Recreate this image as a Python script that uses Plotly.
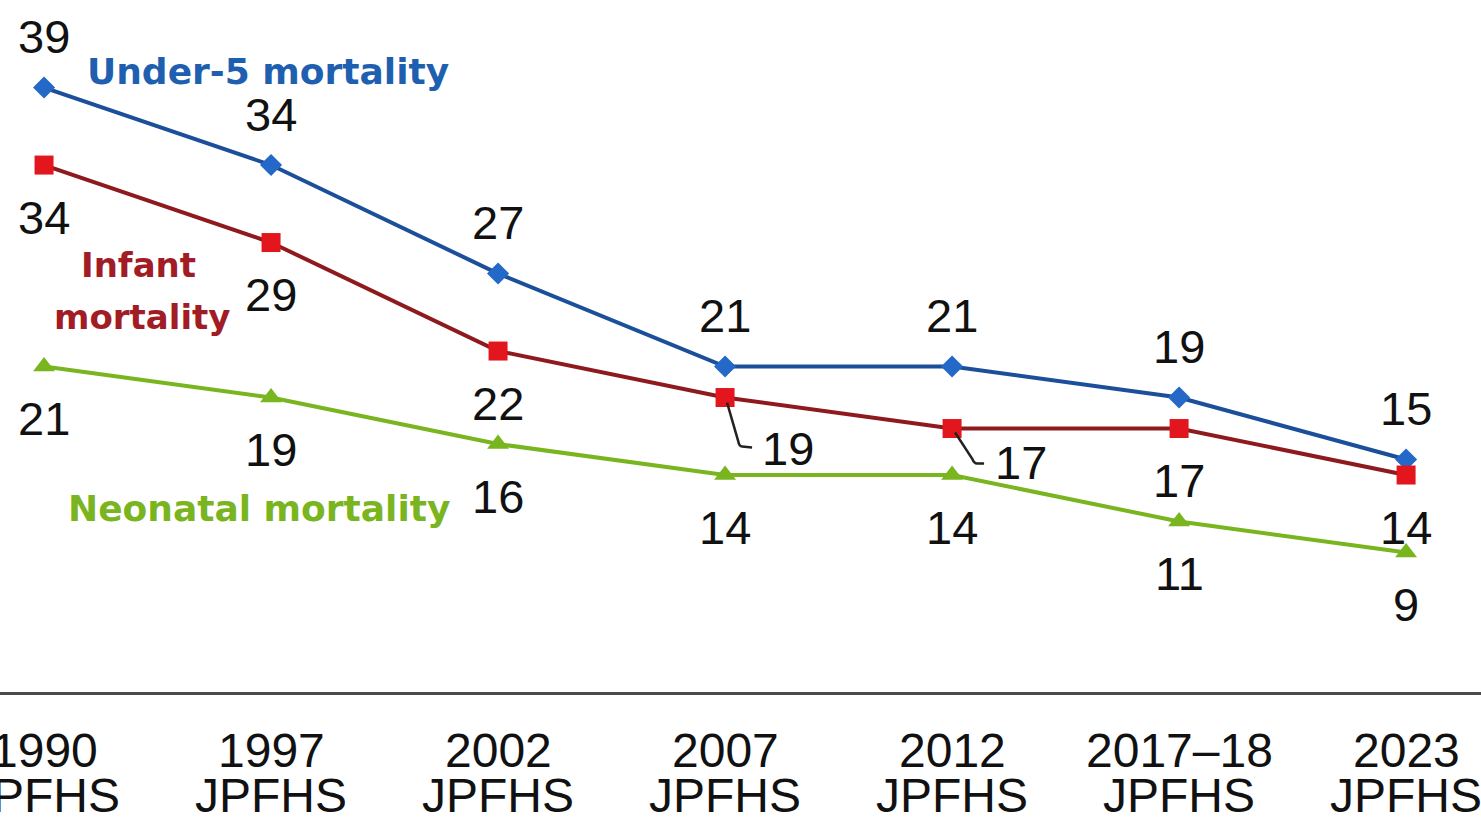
import plotly.graph_objects as go

years = ["1990", "1997", "2002", "2007", "2012", "2017–18", "2023"]
survey_name = ["JPFHS"] * 7
under5 = [39, 34, 27, 21, 21, 19, 15]
infant = [34, 29, 22, 19, 17, 17, 14]
neonatal = [21, 19, 16, 14, 14, 11, 9]

x = list(range(len(years)))

BLUE_LINE = "#1b4f9a"
BLUE_MARK = "#2468c8"
RED_LINE = "#8e1a1e"
RED_MARK = "#e3161d"
GREEN = "#78b51e"
ARIAL = "Liberation Sans, Arial, sans-serif"
LABEL_FONT = dict(family=ARIAL, size=47, color="#111111")
TICK_FONT = dict(family=ARIAL, size=48, color="#111111")
SERIES_FONT = "DejaVu Sans, sans-serif"

XR = [-0.194, 6.33]
YR = [0, 44.65]
PLOT_H = 692
PX_X = 1481 / (XR[1] - XR[0])
PX_Y = PLOT_H / (YR[1] - YR[0])

fig = go.Figure()
fig.add_trace(go.Scatter(x=x, y=under5, mode="lines+markers",
                         line=dict(color=BLUE_LINE, width=4),
                         marker=dict(symbol="diamond", size=17, color=BLUE_MARK),
                         hoverinfo="skip"))
fig.add_trace(go.Scatter(x=x, y=infant, mode="lines+markers",
                         line=dict(color=RED_LINE, width=4),
                         marker=dict(symbol="square", size=19, color=RED_MARK),
                         hoverinfo="skip"))
fig.add_trace(go.Scatter(x=x, y=neonatal, mode="lines+markers",
                         line=dict(color=GREEN, width=4),
                         marker=dict(symbol="triangle-up", size=19, color=GREEN),
                         hoverinfo="skip"))

ann = []
for i, v in enumerate(under5):
    ann.append(dict(x=i, y=v, text=str(v), showarrow=False, yshift=51, font=LABEL_FONT))

# leader-line label offsets (pixels) for infant 2007 and 2012
leader = {3: dict(label=(63, -51), pts=[(2, -5), (13, -43), (17, -49), (27, -50)]),
          4: dict(label=(69, -34), pts=[(3, -4), (20, -30), (25, -35), (32, -35)])}
for i, v in enumerate(infant):
    if i in leader:
        lx, ly = leader[i]["label"]
        ann.append(dict(x=i, y=v, text=str(v), showarrow=False, xshift=lx, yshift=ly,
                        font=LABEL_FONT))
        p = [(i + dx / PX_X, v + dy / PX_Y) for dx, dy in leader[i]["pts"]]
        path = (f"M {p[0][0]} {p[0][1]} L {p[1][0]} {p[1][1]} "
                f"Q {p[2][0] - 3 / PX_X} {p[2][1]} {p[2][0]} {p[2][1]} L {p[3][0]} {p[3][1]}")
        fig.add_shape(type="path", path=path, line=dict(color="#222222", width=2.5))
    else:
        ann.append(dict(x=i, y=v, text=str(v), showarrow=False, yshift=-52, font=LABEL_FONT))
for i, v in enumerate(neonatal):
    ann.append(dict(x=i, y=v, text=str(v), showarrow=False, yshift=-52, font=LABEL_FONT))

# category labels (two lines) below the baseline
for i in x:
    ann.append(dict(x=i, xref="x", yref="paper", y=0, text=years[i], showarrow=False,
                    yanchor="middle", yshift=-58, height=44, font=TICK_FONT))
    ann.append(dict(x=i, xref="x", yref="paper", y=0, text=survey_name[i], showarrow=False,
                    yanchor="middle", yshift=-103, height=44, font=TICK_FONT))

# series names
ann.append(dict(xref="paper", yref="paper", x=85 / 1481, y=1 - 71 / PLOT_H, xanchor="left",
                yanchor="middle", text="<b>Under-5 mortality</b>", showarrow=False,
                font=dict(family=SERIES_FONT, size=36, color="#1f5fb0")))
ann.append(dict(xref="paper", yref="paper", x=138 / 1481, y=1 - 265 / PLOT_H, xanchor="center",
                yanchor="middle", text="<b>Infant</b>", showarrow=False,
                font=dict(family=SERIES_FONT, size=34, color="#a11c24")))
ann.append(dict(xref="paper", yref="paper", x=142 / 1481, y=1 - 317 / PLOT_H, xanchor="center",
                yanchor="middle", text="<b>mortality</b>", showarrow=False,
                font=dict(family=SERIES_FONT, size=34, color="#a11c24")))
ann.append(dict(xref="paper", yref="paper", x=66 / 1481, y=1 - 508 / PLOT_H, xanchor="left",
                yanchor="middle", text="<b>Neonatal mortality</b>", showarrow=False,
                font=dict(family=SERIES_FONT, size=36, color="#7ab51f")))

fig.update_layout(
    width=1481, height=831,
    margin=dict(l=0, r=0, t=0, b=831 - PLOT_H),
    paper_bgcolor="white", plot_bgcolor="white",
    showlegend=False,
    annotations=ann,
    xaxis=dict(range=XR, showticklabels=False, showgrid=False, zeroline=False,
               showline=True, linecolor="#4a4a4a", linewidth=3, ticks=""),
    yaxis=dict(range=YR, visible=False, showgrid=False, zeroline=False),
)

fig.write_html("out.html")
